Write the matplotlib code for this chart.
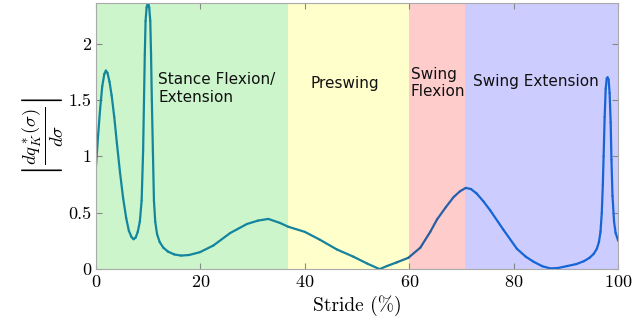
import numpy as np
import matplotlib
matplotlib.use('Agg')
import matplotlib.pyplot as plt
from matplotlib.collections import LineCollection
from matplotlib.colors import LinearSegmentedColormap

# curve: stride (%) vs |dq*/dsigma|
stride = [0, 0.4, 0.8, 1.2, 1.6, 1.9, 2.2, 2.6, 3.0, 3.5, 4.0, 4.6, 5.2, 5.8, 6.3, 6.8,
          7.2, 7.6, 8.0, 8.4, 8.75, 9.03, 9.2, 9.35, 9.5, 9.7, 9.96, 10.2, 10.4,
          10.55, 10.7, 10.9, 11.1, 11.35, 11.7, 12.2, 12.9, 13.8, 15.0, 16.3,
          17.8, 19.9, 22.5, 25.7, 28.9, 31.0, 33.0, 35.2, 36.8, 40.0, 42.9, 46.1,
          49.3, 51.9, 54.3, 55.7, 57.6, 59.8, 62.1, 64.0, 65.3, 67.0, 68.5, 69.7,
          70.8, 71.8, 72.9, 74.2, 75.5, 78.0, 80.6, 82.3, 83.8, 85.5, 87.0, 88.5,
          90.2, 92.0, 93.4, 94.5, 95.3, 95.9, 96.3, 96.6, 96.85, 97.05, 97.2, 97.4,
          97.6, 97.8, 97.96, 98.15, 98.35, 98.55, 98.7, 98.9, 99.2, 99.5, 100]
deriv = [0.91, 1.18, 1.42, 1.62, 1.73, 1.76, 1.74, 1.66, 1.54, 1.35, 1.12, 0.86, 0.63, 0.45, 0.34, 0.285,
         0.265, 0.28, 0.33, 0.42, 0.61, 1.05, 1.50, 1.90, 2.20, 2.32, 2.37, 2.32, 2.20,
         1.90, 1.50, 1.05, 0.61, 0.42, 0.31, 0.24, 0.19, 0.155, 0.13, 0.12,
         0.125, 0.15, 0.21, 0.32, 0.40, 0.43, 0.445, 0.41, 0.376, 0.33, 0.26, 0.175,
         0.11, 0.05, 0.0, 0.027, 0.06, 0.10, 0.19, 0.33, 0.44, 0.55, 0.64, 0.69,
         0.72, 0.71, 0.67, 0.60, 0.52, 0.35, 0.18, 0.11, 0.065, 0.025, 0.006, 0.01,
         0.027, 0.045, 0.07, 0.10, 0.135, 0.18, 0.24, 0.33, 0.50, 0.75, 1.00, 1.35,
         1.60, 1.69, 1.70, 1.68, 1.56, 1.30, 0.97, 0.65, 0.42, 0.32, 0.25]

phase_names = ['Stance Flexion/\nExtension', 'Preswing', 'Swing\nFlexion', 'Swing Extension']
phase_edges = [0, 36.8, 60, 70.7, 100]
phase_colors = ['#ccf5cc', '#ffffcc', '#ffcccc', '#ccccff']
label_x = [11.9, 47.7, 60.3, 72.2]
label_y = [1.60, 1.65, 1.65, 1.66]
label_ha = ['left', 'center', 'left', 'left']

plt.rcParams['mathtext.fontset'] = 'cm'
plt.rcParams['font.family'] = 'cmr10'
plt.rcParams['axes.formatter.use_mathtext'] = True

fig = plt.figure(figsize=(6.44, 3.27), dpi=100)
ax = fig.add_axes([0.149, 0.177, 0.811, 0.814])

for i in range(len(phase_names)):
    ax.axvspan(phase_edges[i], phase_edges[i + 1], color=phase_colors[i], lw=0, zorder=0)
    ax.text(label_x[i], label_y[i], phase_names[i], ha=label_ha[i], va='center',
            fontsize=11, family='DejaVu Sans', color='#111111', linespacing=1.2)

# line colour drifts from teal to blue along the stride
cmap = LinearSegmentedColormap.from_list('stride', [
    (0.0, '#12879f'), (0.56, '#15839c'), (0.62, '#2a5c96'),
    (0.70, '#2461b4'), (0.73, '#1565d6'), (1.0, '#1565d6')])
pts = np.column_stack([stride, deriv]).reshape(-1, 1, 2)
segs = np.concatenate([pts[:-1], pts[1:]], axis=1)
mids = (np.array(stride[:-1]) + np.array(stride[1:])) / 200
lc = LineCollection(segs, colors=cmap(mids), linewidth=1.6, capstyle='round', joinstyle='round')
ax.add_collection(lc)

ax.set_xlim(0, 100)
ax.set_ylim(0, 2.36)
ax.set_xticks([0, 20, 40, 60, 80, 100])
ax.set_yticks([0, 0.5, 1, 1.5, 2])
ax.set_yticklabels(['0', '0.5', '1', '1.5', '2'])
ax.tick_params(direction='in', top=True, right=True, labelsize=13, color='#888888', length=4)
for s in ax.spines.values():
    s.set_color('#aaaaaa')
ax.set_xlabel('Stride (%)', fontsize=14)
ax.set_ylabel(r'$\left|\frac{dq_K^*(\sigma)}{d\sigma}\right|$', fontsize=19, labelpad=2)

fig.savefig('out.png', dpi=100)
